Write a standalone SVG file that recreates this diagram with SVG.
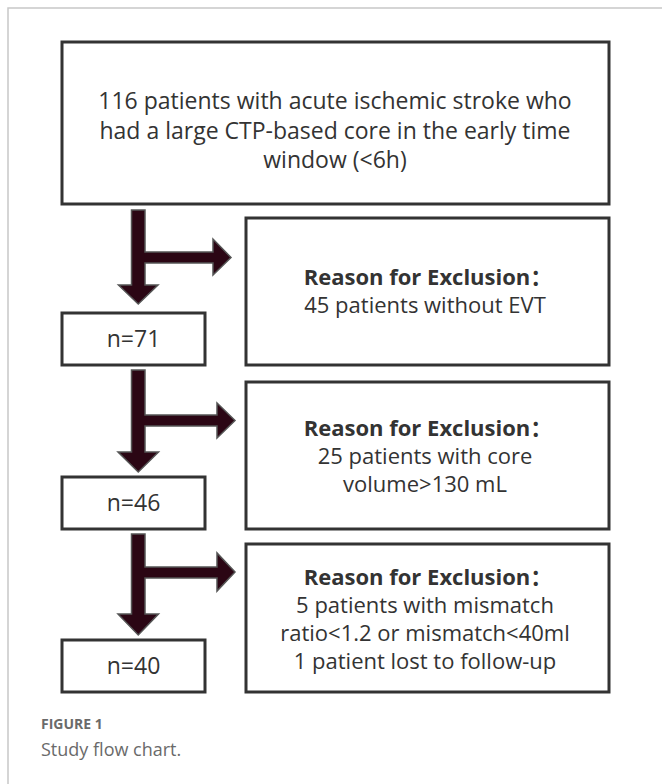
<svg xmlns="http://www.w3.org/2000/svg" width="662" height="784" viewBox="0 0 662 784">
<style>
.frame{fill:none;stroke:#c8c8c8;stroke-width:1.5}
.box{fill:#fff;stroke:#333;stroke-width:3}
.t{font-family:"Open Sans","Noto Sans","Noto Sans CJK SC",sans-serif;font-size:23px;fill:#333;text-anchor:middle}
.r{font-size:22px}
.b{font-weight:bold}
.arrow{fill:#2b0614;stroke:#555;stroke-width:1.5;stroke-linejoin:miter}
.cap1{font-family:"Open Sans","Noto Sans",sans-serif;font-size:14px;font-weight:bold;fill:#6a6a6a}
.cap2{font-family:"Open Sans","Noto Sans",sans-serif;font-size:18px;fill:#6a6a6a}
</style>
<rect width="662" height="784" fill="#fff"/>
<path class="frame" d="M8,784 V8 H662"/>

<g id="connectors">
<path class="arrow" d="M131.5,210 H145 V252 H213 V239 L231,257.5 L213,275 V263 H145 V285 H158 L138.25,304 L118.5,285 H131.5 Z"/>
<path class="arrow" d="M131.5,370 H145 V415 H217 V403 L235,420.5 L217,438 V426 H145 V452 H158.5 L138.25,472 L118,452 H131.5 Z"/>
<path class="arrow" d="M131.5,534 H145 V567 H217 V553 L235,572 L217,591 V578 H145 V614 H158.5 L138.25,635 L118,614 H131.5 Z"/>
</g>

<g id="start">
<rect class="box" x="62" y="42" width="547" height="162"/>
<text class="t" x="335" y="109">116 patients with acute ischemic stroke who</text>
<text class="t" x="335" y="139">had a large CTP-based core in the early time</text>
<text class="t" x="335" y="168">window (&lt;6h)</text>
</g>

<g id="n71">
<rect class="box" x="62" y="313" width="143" height="52"/>
<text class="t" x="133.5" y="347">n=71</text>
</g>

<g id="excl1">
<rect class="box" x="246" y="218" width="363" height="147"/>
<text class="t r b" x="428" y="285">Reason for Exclusion：</text>
<text class="t r" x="425" y="313">45 patients without EVT</text>
</g>

<g id="n46">
<rect class="box" x="62" y="477" width="143" height="52"/>
<text class="t" x="133.5" y="511">n=46</text>
</g>

<g id="excl2">
<rect class="box" x="246" y="382" width="363" height="147"/>
<text class="t r b" x="428" y="436">Reason for Exclusion：</text>
<text class="t r" x="425" y="464">25 patients with core</text>
<text class="t r" x="425" y="492">volume&gt;130 mL</text>
</g>

<g id="n40">
<rect class="box" x="62" y="640" width="143" height="52"/>
<text class="t" x="133.5" y="674">n=40</text>
</g>

<g id="excl3">
<rect class="box" x="246" y="544" width="363" height="148"/>
<text class="t r b" x="428" y="585">Reason for Exclusion：</text>
<text class="t r" x="425" y="613">5 patients with mismatch</text>
<text class="t r" x="425" y="641">ratio&lt;1.2 or mismatch&lt;40ml</text>
<text class="t r" x="425" y="669">1 patient lost to follow-up</text>
</g>

<g id="caption">
<text class="cap1" x="41" y="729">FIGURE 1</text>
<text class="cap2" x="41" y="756">Study flow chart.</text>
</g>
</svg>
